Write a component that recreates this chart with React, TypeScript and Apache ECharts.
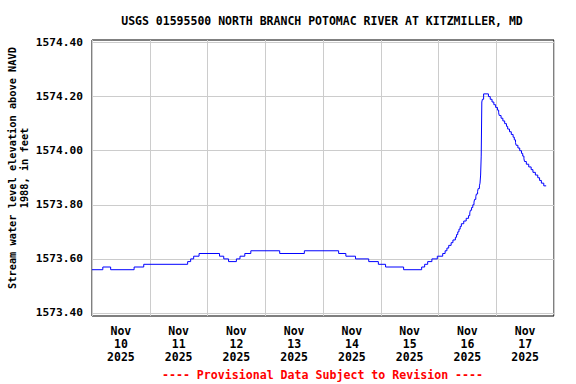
import React, { useEffect, useRef } from "react";
import * as echarts from "echarts";

const titleText = "USGS 01595500 NORTH BRANCH POTOMAC RIVER AT KITZMILLER, MD";
const yAxisTitle = "Stream water level elevation above NAVD\n1988, in feet";
const footerText = "---- Provisional Data Subject to Revision ----";

const dayLabels = [
  "Nov\n10\n2025", "Nov\n11\n2025", "Nov\n12\n2025", "Nov\n13\n2025",
  "Nov\n14\n2025", "Nov\n15\n2025", "Nov\n16\n2025", "Nov\n17\n2025",
];

const yTicks = [1573.4, 1573.6, 1573.8, 1574.0, 1574.2, 1574.4];

const times = [
  "2025-11-10 00:00", "2025-11-10 04:30", "2025-11-10 07:45", "2025-11-10 17:30",
  "2025-11-10 21:30", "2025-11-11 15:45", "2025-11-11 17:00", "2025-11-11 18:15",
  "2025-11-11 20:30", "2025-11-12 05:00", "2025-11-12 06:45", "2025-11-12 08:45",
  "2025-11-12 12:00", "2025-11-12 13:30", "2025-11-12 15:30", "2025-11-12 18:00",
  "2025-11-13 06:00", "2025-11-13 16:15", "2025-11-14 06:30", "2025-11-14 09:30",
  "2025-11-14 13:30", "2025-11-14 19:00", "2025-11-14 23:00", "2025-11-15 02:00",
  "2025-11-15 09:30", "2025-11-15 17:00", "2025-11-15 18:15", "2025-11-15 19:30",
  "2025-11-15 21:15", "2025-11-15 23:30", "2025-11-16 01:45", "2025-11-16 02:45",
  "2025-11-16 03:30", "2025-11-16 04:15", "2025-11-16 05:15", "2025-11-16 06:00",
  "2025-11-16 07:00", "2025-11-16 07:30", "2025-11-16 08:00", "2025-11-16 08:30",
  "2025-11-16 09:00", "2025-11-16 09:30", "2025-11-16 10:30", "2025-11-16 11:30",
  "2025-11-16 12:30", "2025-11-16 13:00", "2025-11-16 13:15", "2025-11-16 13:45",
  "2025-11-16 14:15", "2025-11-16 14:45", "2025-11-16 15:00", "2025-11-16 15:30",
  "2025-11-16 15:45", "2025-11-16 16:15", "2025-11-16 16:30", "2025-11-16 17:00",
  "2025-11-16 17:15", "2025-11-16 17:30", "2025-11-16 17:45", "2025-11-16 18:00",
  "2025-11-16 18:15", "2025-11-16 18:45", "2025-11-16 20:45", "2025-11-16 21:30",
  "2025-11-16 22:15", "2025-11-16 23:00", "2025-11-16 23:45", "2025-11-17 00:30",
  "2025-11-17 01:00", "2025-11-17 01:15", "2025-11-17 02:00", "2025-11-17 02:45",
  "2025-11-17 03:30", "2025-11-17 04:15", "2025-11-17 04:45", "2025-11-17 05:30",
  "2025-11-17 06:15", "2025-11-17 07:00", "2025-11-17 07:30", "2025-11-17 08:00",
  "2025-11-17 08:15", "2025-11-17 09:00", "2025-11-17 09:45", "2025-11-17 10:30",
  "2025-11-17 11:00", "2025-11-17 11:30", "2025-11-17 11:45", "2025-11-17 12:30",
  "2025-11-17 13:30", "2025-11-17 14:30", "2025-11-17 15:15", "2025-11-17 16:15",
  "2025-11-17 17:15", "2025-11-17 18:00", "2025-11-17 18:45", "2025-11-17 19:45",
  "2025-11-17 20:45",
];

const levels = [
  1573.56, 1573.57, 1573.56, 1573.57,
  1573.58, 1573.59, 1573.60, 1573.61,
  1573.62, 1573.61, 1573.60, 1573.59,
  1573.60, 1573.61, 1573.62, 1573.63,
  1573.62, 1573.63, 1573.62, 1573.61,
  1573.60, 1573.59, 1573.58, 1573.57,
  1573.56, 1573.57, 1573.58, 1573.59,
  1573.60, 1573.61, 1573.62, 1573.63,
  1573.64, 1573.65, 1573.66, 1573.67,
  1573.68, 1573.69, 1573.70, 1573.71,
  1573.72, 1573.73, 1573.74, 1573.75,
  1573.76, 1573.77, 1573.78, 1573.79,
  1573.80, 1573.81, 1573.82, 1573.83,
  1573.84, 1573.85, 1573.86, 1573.87,
  1573.88, 1573.91, 1573.98, 1574.18,
  1574.19, 1574.21, 1574.20, 1574.19,
  1574.18, 1574.17, 1574.16, 1574.15,
  1574.14, 1574.13, 1574.12, 1574.11,
  1574.10, 1574.09, 1574.08, 1574.07,
  1574.06, 1574.05, 1574.04, 1574.03,
  1574.02, 1574.01, 1574.00, 1573.99,
  1573.98, 1573.97, 1573.96, 1573.95,
  1573.94, 1573.93, 1573.92, 1573.91,
  1573.90, 1573.89, 1573.88, 1573.87,
  1573.87,
];

const toMs = (s: string) => {
  const [d, t] = s.split(" ");
  const [y, m, dd] = d.split("-").map(Number);
  const [hh, mm] = t.split(":").map(Number);
  return Date.UTC(y, m - 1, dd, hh, mm);
};

const DAY = 86400000;
const startMs = Date.UTC(2025, 10, 10);
const endMs = startMs + 8 * DAY;

const FONT = "'DejaVu Sans Mono', 'Liberation Mono', monospace";

export default function App() {
  const ref = useRef<HTMLDivElement>(null);

  useEffect(() => {
    if (!ref.current) return;
    const chart = echarts.init(ref.current, null, { renderer: "svg" });
    const data = times.map((t, i) => [toMs(t), levels[i]]);
    chart.setOption({
      animation: false,
      backgroundColor: "#fff",
      grid: {
        left: 92,
        top: 40,
        width: 462,
        height: 276,
        show: true,
        borderColor: "#000",
        borderWidth: 1,
        backgroundColor: "transparent",
      },
      xAxis: [
        {
          type: "value",
          min: startMs,
          max: endMs,
          interval: DAY,
          axisLine: { show: false },
          axisTick: { show: false },
          axisLabel: { show: false },
          splitLine: { show: true, lineStyle: { color: "#cccccc", width: 1 } },
        },
        {
          type: "category",
          data: dayLabels,
          position: "bottom",
          boundaryGap: true,
          axisLine: { show: false },
          axisTick: { show: false },
          splitLine: { show: false },
          axisLabel: {
            interval: 0,
            margin: 8,
            color: "#000",
            fontFamily: FONT,
            fontWeight: "bold",
            fontSize: 11.5,
            lineHeight: 13,
          },
        },
      ],
      yAxis: {
        type: "value",
        min: 1573.3889,
        max: 1574.4092,
        axisLine: { show: false },
        axisTick: { show: false, customValues: yTicks },
        axisLabel: {
          customValues: yTicks,
          margin: 9,
          color: "#000",
          fontFamily: FONT,
          fontWeight: "bold",
          fontSize: 11.2,
          formatter: (v: number) => v.toFixed(2),
        },
        splitLine: { show: true, lineStyle: { color: "#cccccc", width: 1 } },
      },
      graphic: [
        {
          type: "text",
          x: 322,
          y: 21,
          style: {
            text: titleText,
            fill: "#000",
            font: `bold 11.5px ${FONT}`,
            align: "center",
            verticalAlign: "middle",
          },
        },
        {
          type: "text",
          x: 17.5,
          y: 168,
          rotation: Math.PI / 2,
          style: {
            text: yAxisTitle,
            fill: "#000",
            font: `bold 10.3px ${FONT}`,
            align: "center",
            verticalAlign: "middle",
            lineHeight: 12,
          },
        },
        {
          type: "text",
          x: 322.5,
          y: 375,
          style: {
            text: footerText,
            fill: "#ff0000",
            font: `bold 11.6px ${FONT}`,
            align: "center",
            verticalAlign: "middle",
          },
        },
      ],
      series: [
        {
          type: "line",
          xAxisIndex: 0,
          yAxisIndex: 0,
          data,
          step: "end",
          showSymbol: false,
          symbol: "none",
          lineStyle: { color: "#0000ff", width: 1 },
        },
      ],
    });
    return () => chart.dispose();
  }, []);

  return (
    <div
      ref={ref}
      style={{ position: "fixed", left: 0, top: 0, width: 576, height: 384 }}
    />
  );
}
